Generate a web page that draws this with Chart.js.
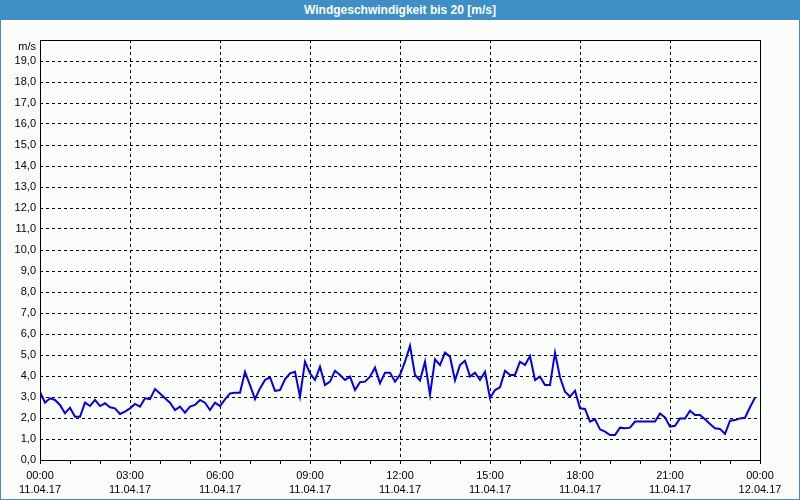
<!DOCTYPE html>
<html>
<head>
<meta charset="utf-8">
<script src="https://cdn.jsdelivr.net/npm/chart.js@4/dist/chart.umd.min.js"></script>
<style>
  html, body { margin: 0; padding: 0; background: #fbfdfb; }
  #wrap { position: relative; width: 800px; height: 500px; }
  #chart { position: absolute; left: 0; top: 0; }
  #title {
    position: absolute; left: 0; top: 0; width: 800px; height: 20px;
    background: #3d8fc6; color: #fff; text-align: center;
    font: bold 12px "Liberation Sans", sans-serif; line-height: 20px;
  }
  #frame {
    position: absolute; left: 0; top: 0; width: 800px; height: 500px;
    box-sizing: border-box; border: 1px solid #3d8fc6; border-top: none;
    pointer-events: none;
  }
</style>
</head>
<body>
<div id="wrap">
  <canvas id="chart" width="800" height="500"></canvas>
  <div id="title">Windgeschwindigkeit bis 20 [m/s]</div>
  <div id="frame"></div>
</div>
<script>
// wind speed, one value every 10 minutes, 11.04.17 00:00 .. 23:50
const speeds = [
  3.25, 2.73, 2.94, 2.86, 2.62, 2.22, 2.49, 2.06, 2.06, 2.73, 2.57, 2.86,
  2.57, 2.70, 2.51, 2.46, 2.19, 2.30, 2.46, 2.67, 2.54, 2.94, 2.90, 3.38,
  3.17, 2.94, 2.73, 2.38, 2.54, 2.25, 2.54, 2.62, 2.86, 2.73, 2.38, 2.73,
  2.57, 2.89, 3.17, 3.20, 3.20, 4.20, 3.57, 2.90, 3.41, 3.81, 3.94, 3.29,
  3.33, 3.84, 4.13, 4.20, 3.02, 4.68, 4.13, 3.81, 4.44, 3.57, 3.73, 4.25,
  4.05, 3.81, 3.97, 3.33, 3.70, 3.73, 3.97, 4.40, 3.65, 4.16, 4.16, 3.73,
  4.05, 4.68, 5.44, 4.05, 3.79, 4.68, 3.10, 4.79, 4.52, 5.11, 4.92, 3.79,
  4.52, 4.73, 3.97, 4.16, 3.81, 4.20, 2.94, 3.33, 3.46, 4.25, 4.05, 4.05,
  4.68, 4.52, 4.95, 3.81, 3.97, 3.57, 3.57, 5.11, 3.94, 3.25, 3.02, 3.30,
  2.46, 2.43, 1.83, 1.94, 1.46, 1.35, 1.19, 1.19, 1.54, 1.51, 1.54, 1.83,
  1.83, 1.83, 1.83, 1.83, 2.22, 2.03, 1.59, 1.63, 1.98, 1.98, 2.35, 2.14,
  2.14, 1.94, 1.71, 1.51, 1.48, 1.24, 1.87, 1.90, 1.98, 2.01, 2.51, 2.97
];
const timeLabels = ["00:00", "03:00", "06:00", "09:00", "12:00", "15:00", "18:00", "21:00", "00:00"];
const dateLabels = ["11.04.17", "11.04.17", "11.04.17", "11.04.17", "11.04.17", "11.04.17", "11.04.17", "11.04.17", "12.04.17"];
const yMax = 20;
const yUnit = "m/s";

const FONT = { family: "'Liberation Sans', sans-serif", size: 11 };

const framePlugin = {
  id: "frame",
  afterDraw(chart) {
    const { ctx, chartArea: a } = chart;
    ctx.save();
    ctx.strokeStyle = "#000";
    ctx.lineWidth = 1;
    ctx.strokeRect(a.left + 0.5, a.top + 0.5, a.right - a.left, a.bottom - a.top);
    ctx.fillStyle = "#000";
    ctx.font = "11px 'Liberation Sans', sans-serif";
    ctx.textAlign = "right";
    ctx.textBaseline = "middle";
    ctx.fillText(yUnit, a.left - 4, a.top + 7);
    ctx.restore();
  },
};

new Chart(document.getElementById("chart"), {
  type: "line",
  data: {
    datasets: [{
      data: speeds.map((v, i) => ({ x: i, y: v })),
      borderColor: "#0000f0",
      borderWidth: 2,
      pointRadius: 0,
      tension: 0,
      fill: false,
    }],
  },
  options: {
    responsive: false,
    animation: false,
    layout: { padding: { top: 40, right: 40, left: 0, bottom: 0 } },
    plugins: { legend: { display: false }, tooltip: { enabled: false } },
    scales: {
      x: {
        type: "linear",
        min: 0,
        max: 144,
        afterFit: (s) => { s.height = 40; },
        border: { display: false, dash: [3, 3] },
        grid: {
          color: (c) => (c.tick && c.tick.value % 18 === 0 && c.tick.value > 0 && c.tick.value < 144 ? "#000" : "rgba(0,0,0,0)"),
          tickColor: "#000",
          tickLength: 4,
          tickBorderDash: [],
        },
        ticks: {
          stepSize: 6,
          autoSkip: false,
          maxRotation: 0,
          padding: 5,
          color: "#000",
          font: { ...FONT, lineHeight: "14px" },
          callback: (v) => (v % 18 === 0 ? [timeLabels[v / 18], dateLabels[v / 18]] : ""),
        },
      },
      y: {
        min: 0,
        max: yMax,
        afterFit: (s) => { s.width = 40; },
        border: { display: false, dash: [3, 3] },
        grid: {
          color: (c) => (c.tick && c.tick.value > 0 && c.tick.value < yMax ? "#000" : "rgba(0,0,0,0)"),
          drawTicks: false,
        },
        ticks: {
          stepSize: 1,
          padding: 4,
          color: "#000",
          font: FONT,
          callback: (v) => (v === yMax ? "" : v.toFixed(1).replace(".", ",")),
        },
      },
    },
  },
  plugins: [framePlugin],
});
</script>
</body>
</html>
